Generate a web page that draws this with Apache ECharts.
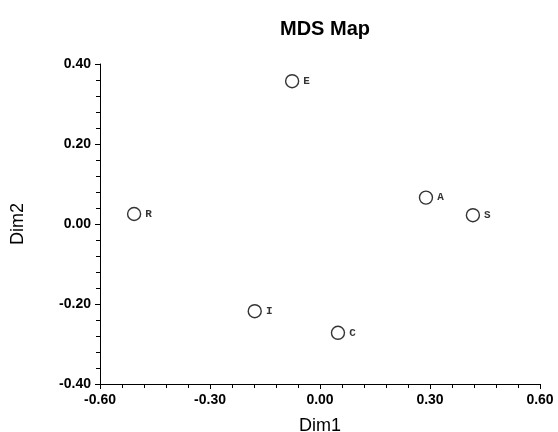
<!DOCTYPE html>
<html>
<head>
<meta charset="utf-8">
<title>MDS Map</title>
<script src="https://cdn.jsdelivr.net/npm/echarts@6/dist/echarts.min.js"></script>
<style>
    html, body { margin: 0; padding: 0; background: #fff; }
    #main { width: 558px; height: 432px; }
</style>
</head>
<body>
<div id="main"></div>
<script>
// points
const names = ['E', 'R', 'A', 'S', 'I', 'C'];
const dim1 = [-0.076, -0.507, 0.289, 0.417, -0.178, 0.049];
const dim2 = [0.357, 0.025, 0.066, 0.022, -0.218, -0.272];

const xTicks = [-0.6, 0.6, 0.3];   // min, max, interval
const yTicks = [-0.4, 0.4, 0.2];

const chart = echarts.init(document.getElementById('main'));

const axisCommon = {
    axisLine: { show: true, onZero: false, lineStyle: { color: '#000', width: 1 } },
    axisTick: { show: true, inside: false, length: 5, lineStyle: { color: '#000' } },
    minorTick: { show: true, splitNumber: 5, length: 4, lineStyle: { color: '#000' } },
    splitLine: { show: false },
    axisLabel: {
        color: '#000', fontFamily: 'Arial, Liberation Sans', fontSize: 14, fontWeight: 'bold',
        margin: 9,
        formatter: v => v.toFixed(2)
    },
    nameTextStyle: { color: '#000', fontFamily: 'Arial, Liberation Sans', fontSize: 18 }
};

const option = {
    backgroundColor: '#fff',
    animation: false,
    title: {
        text: 'MDS Map',
        left: 320, top: 14, textAlign: 'center',
        textStyle: { fontFamily: 'Arial, Liberation Sans', fontSize: 20, fontWeight: 'bold', color: '#000' }
    },
    grid: { left: 100, right: 18, top: 64, bottom: 48, outerBoundsMode: 'none' },
    xAxis: Object.assign({}, axisCommon, {
        type: 'value', min: xTicks[0], max: xTicks[1], interval: xTicks[2],
        name: 'Dim1', nameLocation: 'middle', nameGap: 33
    }),
    yAxis: Object.assign({}, axisCommon, {
        type: 'value', min: yTicks[0], max: yTicks[1], interval: yTicks[2],
        name: 'Dim2', nameLocation: 'middle', nameGap: 73, nameRotate: 90
    }),
    series: [{
        type: 'scatter',
        symbol: 'circle',
        symbolSize: 13,
        itemStyle: { color: '#fff', borderColor: '#000', borderWidth: 1.4 },
        label: {
            show: true, position: 'right', distance: 4,
            formatter: p => p.name,
            color: '#000', fontFamily: 'Liberation Mono, DejaVu Sans Mono, monospace',
            fontSize: 11, fontWeight: 'bold'
        },
        data: names.map((n, i) => ({ name: n, value: [dim1[i], dim2[i]] }))
    }]
};

chart.setOption(option);
</script>
</body>
</html>
